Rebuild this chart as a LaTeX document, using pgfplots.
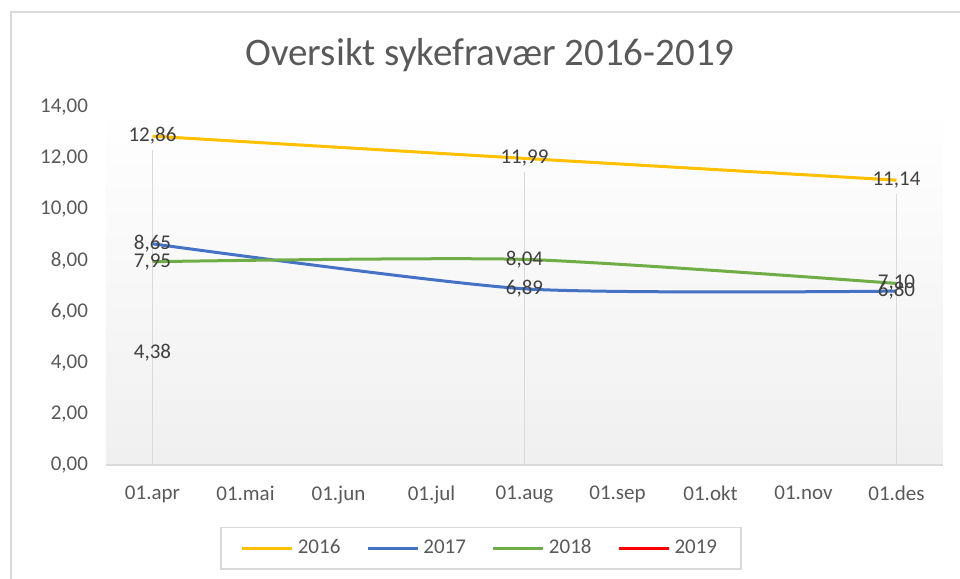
\documentclass[border=0pt]{standalone}
\usepackage{fontspec}
\setmainfont{Carlito}
\usepackage{pgfplots}
\pgfplotsset{compat=1.18}
\definecolor{c2016}{HTML}{FFC000}
\definecolor{c2017}{HTML}{4472C4}
\definecolor{c2018}{HTML}{70AD47}
\definecolor{c2019}{HTML}{FF0000}
\definecolor{txt}{HTML}{595959}
\definecolor{lbl}{HTML}{404040}
\definecolor{gridc}{HTML}{D9D9D9}

\begin{document}
\begin{tikzpicture}
% 1px = 0.5pt, page 960x579 px
\useasboundingbox (0,0) rectangle (480pt,289.5pt);
\draw[gridc, line width=1pt] (5.5pt,-20pt) |- (500pt,283.5pt);
\node[text=txt, font=\fontsize{19.5}{23}\selectfont] at (245pt,262pt) {Oversikt sykefravær 2016-2019};
\begin{axis}[
    at={(53pt,57pt)}, anchor=south west,
    scale only axis, width=418.5pt, height=179pt,
    xmin=-0.5, xmax=8.5, ymin=0, ymax=14,
    xtick={0,...,8},
    xticklabels={01.apr,01.mai,01.jun,01.jul,01.aug,01.sep,01.okt,01.nov,01.des},
    ytick={0,2,...,14},
    axis lines*=left,
    x axis line style={draw=gridc, line width=0.8pt, -},
    y axis line style={draw=none, -},
    major tick length=0pt,
    tick label style={text=txt, font=\fontsize{10.5}{12}\selectfont},
    xticklabel style={yshift=-7pt},
    yticklabel style={xshift=-5.5pt},
    /pgf/number format/.cd, assume math mode=true, fixed, fixed zerofill, precision=2, use comma,
    /pgfplots/.cd,
    axis background/.style={shade, top color=white, bottom color=black!6},
    lbls/.style={nodes near coords, nodes near coords align={center},
      every node near coord/.append style={text=lbl, font=\fontsize{10.5}{12}\selectfont, anchor=center, inner sep=0pt}},
    legend style={at={(0.448,-0.232)}, anchor=center, draw=gridc, line width=0.8pt,
        font=\fontsize{10.5}{12}\selectfont, text=txt, legend columns=4,
        /tikz/every even column/.append style={column sep=11pt},
        inner xsep=10pt, inner ysep=4pt},
    legend image code/.code={\draw[#1, line width=1.5pt] (0pt,0pt) -- (25pt,0pt);},
]
% drop lines from the highest value down to the axis
\addplot[ycomb, gridc, line width=0.8pt, no marks, forget plot] coordinates {(0,12.3)(4,11.45)(8,10.6)};
\addplot[c2016, line width=1.5pt, smooth, tension=0.4, no marks, lbls] coordinates {(0,12.86)(4,11.99)(8,11.14)};
\addplot[c2017, line width=1.5pt, smooth, tension=0.4, no marks, lbls] coordinates {(0,8.65)(4,6.89)(8,6.80)};
\addplot[c2018, line width=1.5pt, smooth, tension=0.4, no marks, lbls] coordinates {(0,7.95)(4,8.04)(8,7.10)};
\addplot[c2019, line width=1.5pt, no marks, lbls] coordinates {(0,4.38)};
\legend{2016,2017,2018,2019}
\end{axis}
\end{tikzpicture}
\end{document}
